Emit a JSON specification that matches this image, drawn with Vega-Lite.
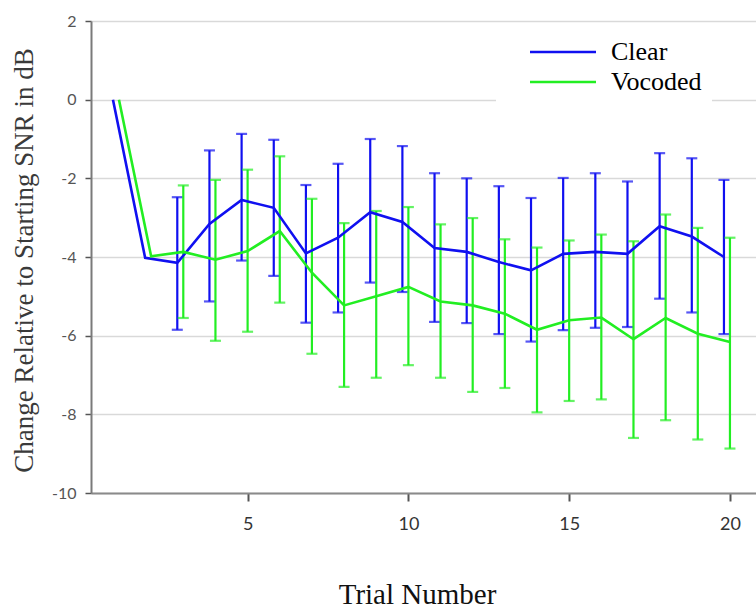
{
  "$schema": "https://vega.github.io/schema/vega-lite/v6.json",
  "width": 665,
  "height": 472,
  "autosize": "none",
  "padding": {"left": 91, "top": 21, "right": 0, "bottom": 115},
  "background": "white",
  "config": {"view": {"stroke": null}},
  "data": {
    "values": [
      {"trial": 1, "series": "Clear", "mean": 0, "lo": null, "hi": null},
      {"trial": 2, "series": "Clear", "mean": -4.02, "lo": null, "hi": null},
      {"trial": 3, "series": "Clear", "mean": -4.15, "lo": -5.85, "hi": -2.48},
      {"trial": 4, "series": "Clear", "mean": -3.16, "lo": -5.13, "hi": -1.29},
      {"trial": 5, "series": "Clear", "mean": -2.55, "lo": -4.09, "hi": -0.87},
      {"trial": 6, "series": "Clear", "mean": -2.75, "lo": -4.48, "hi": -1.02},
      {"trial": 7, "series": "Clear", "mean": -3.91, "lo": -5.67, "hi": -2.17},
      {"trial": 8, "series": "Clear", "mean": -3.51, "lo": -5.41, "hi": -1.63},
      {"trial": 9, "series": "Clear", "mean": -2.86, "lo": -4.65, "hi": -1.0},
      {"trial": 10, "series": "Clear", "mean": -3.11, "lo": -4.89, "hi": -1.18},
      {"trial": 11, "series": "Clear", "mean": -3.77, "lo": -5.65, "hi": -1.87},
      {"trial": 12, "series": "Clear", "mean": -3.87, "lo": -5.68, "hi": -2.0},
      {"trial": 13, "series": "Clear", "mean": -4.13, "lo": -5.96, "hi": -2.2},
      {"trial": 14, "series": "Clear", "mean": -4.34, "lo": -6.15, "hi": -2.5},
      {"trial": 15, "series": "Clear", "mean": -3.92, "lo": -5.86, "hi": -1.99},
      {"trial": 16, "series": "Clear", "mean": -3.87, "lo": -5.8, "hi": -1.87},
      {"trial": 17, "series": "Clear", "mean": -3.92, "lo": -5.78, "hi": -2.08},
      {"trial": 18, "series": "Clear", "mean": -3.22, "lo": -5.06, "hi": -1.36},
      {"trial": 19, "series": "Clear", "mean": -3.48, "lo": -5.41, "hi": -1.49},
      {"trial": 20, "series": "Clear", "mean": -4.0, "lo": -5.96, "hi": -2.04},
      {"trial": 1, "series": "Vocoded", "mean": 0, "lo": null, "hi": null},
      {"trial": 2, "series": "Vocoded", "mean": -3.98, "lo": null, "hi": null},
      {"trial": 3, "series": "Vocoded", "mean": -3.87, "lo": -5.55, "hi": -2.18},
      {"trial": 4, "series": "Vocoded", "mean": -4.07, "lo": -6.13, "hi": -2.04},
      {"trial": 5, "series": "Vocoded", "mean": -3.85, "lo": -5.9, "hi": -1.78},
      {"trial": 6, "series": "Vocoded", "mean": -3.34, "lo": -5.16, "hi": -1.44},
      {"trial": 7, "series": "Vocoded", "mean": -4.4, "lo": -6.46, "hi": -2.52},
      {"trial": 8, "series": "Vocoded", "mean": -5.23, "lo": -7.3, "hi": -3.14},
      {"trial": 9, "series": "Vocoded", "mean": -5.0, "lo": -7.07, "hi": -2.83},
      {"trial": 10, "series": "Vocoded", "mean": -4.76, "lo": -6.75, "hi": -2.73},
      {"trial": 11, "series": "Vocoded", "mean": -5.13, "lo": -7.07, "hi": -3.17},
      {"trial": 12, "series": "Vocoded", "mean": -5.23, "lo": -7.43, "hi": -3.01},
      {"trial": 13, "series": "Vocoded", "mean": -5.44, "lo": -7.33, "hi": -3.55},
      {"trial": 14, "series": "Vocoded", "mean": -5.85, "lo": -7.95, "hi": -3.76},
      {"trial": 15, "series": "Vocoded", "mean": -5.61, "lo": -7.66, "hi": -3.58},
      {"trial": 16, "series": "Vocoded", "mean": -5.54, "lo": -7.62, "hi": -3.43},
      {"trial": 17, "series": "Vocoded", "mean": -6.09, "lo": -8.6, "hi": -3.6},
      {"trial": 18, "series": "Vocoded", "mean": -5.55, "lo": -8.15, "hi": -2.92},
      {"trial": 19, "series": "Vocoded", "mean": -5.95, "lo": -8.64, "hi": -3.26},
      {"trial": 20, "series": "Vocoded", "mean": -6.16, "lo": -8.87, "hi": -3.51}
    ]
  },
  "encoding": {
    "x": {
      "field": "trial",
      "type": "quantitative",
      "scale": {"domain": [0.13, 20.81], "nice": false, "zero": false},
      "axis": {
        "values": [5, 10, 15, 20],
        "grid": false,
        "domainColor": "#8a8a8a",
        "domainWidth": 2,
        "tickColor": "#555555",
        "tickSize": 8,
        "tickWidth": 2,
        "labelFont": "Lato",
        "labelFontSize": 18,
        "labelColor": "#333333",
        "labelPadding": 14,
        "title": "Trial Number",
        "titleFont": "Liberation Serif",
        "titleFontSize": 29,
        "titleFontWeight": "normal",
        "titleColor": "#111111",
        "titleX": 326,
        "titleY": 110,
        "titleAlign": "center",
        "titleBaseline": "alphabetic"
      }
    }
  },
  "layer": [
    {
      "transform": [{"filter": "datum.series === 'Clear' && datum.lo != null"}],
      "mark": {"type": "rule", "color": "#1010f0", "strokeWidth": 2.2, "xOffset": -6},
      "encoding": {
        "y": {"field": "lo", "type": "quantitative", "title": "Change Relative to Starting SNR in dB", "scale": {"domain": [-10, 2], "nice": false, "zero": false}},
        "y2": {"field": "hi"}
      }
    },
    {
      "transform": [{"filter": "datum.series === 'Clear' && datum.lo != null"}],
      "mark": {"type": "tick", "orient": "horizontal", "color": "#1010f0", "size": 11, "thickness": 2.2, "xOffset": -6},
      "encoding": {
        "y": {"field": "lo", "type": "quantitative", "title": "Change Relative to Starting SNR in dB", "scale": {"domain": [-10, 2], "nice": false, "zero": false}}
      }
    },
    {
      "transform": [{"filter": "datum.series === 'Clear' && datum.lo != null"}],
      "mark": {"type": "tick", "orient": "horizontal", "color": "#1010f0", "size": 11, "thickness": 2.2, "xOffset": -6},
      "encoding": {
        "y": {"field": "hi", "type": "quantitative", "title": "Change Relative to Starting SNR in dB", "scale": {"domain": [-10, 2], "nice": false, "zero": false}}
      }
    },
    {
      "transform": [{"filter": "datum.series === 'Vocoded' && datum.lo != null"}],
      "mark": {"type": "rule", "color": "#22ee22", "strokeWidth": 2.2},
      "encoding": {
        "y": {"field": "lo", "type": "quantitative", "title": "Change Relative to Starting SNR in dB", "scale": {"domain": [-10, 2], "nice": false, "zero": false}},
        "y2": {"field": "hi"}
      }
    },
    {
      "transform": [{"filter": "datum.series === 'Vocoded' && datum.lo != null"}],
      "mark": {"type": "tick", "orient": "horizontal", "color": "#22ee22", "size": 11, "thickness": 2.2},
      "encoding": {
        "y": {"field": "lo", "type": "quantitative", "title": "Change Relative to Starting SNR in dB", "scale": {"domain": [-10, 2], "nice": false, "zero": false}}
      }
    },
    {
      "transform": [{"filter": "datum.series === 'Vocoded' && datum.lo != null"}],
      "mark": {"type": "tick", "orient": "horizontal", "color": "#22ee22", "size": 11, "thickness": 2.2},
      "encoding": {
        "y": {"field": "hi", "type": "quantitative", "title": "Change Relative to Starting SNR in dB", "scale": {"domain": [-10, 2], "nice": false, "zero": false}}
      }
    },
    {
      "transform": [{"filter": "datum.series === 'Clear'"}],
      "mark": {"type": "line", "strokeWidth": 2.6, "xOffset": -6},
      "encoding": {
        "y": {
          "field": "mean",
          "type": "quantitative",
          "title": "Change Relative to Starting SNR in dB",
          "scale": {"domain": [-10, 2], "nice": false, "zero": false},
          "axis": {
            "values": [-10, -8, -6, -4, -2, 0, 2],
            "labelExpr": "replace(datum.label, '\u2212', '-')",
            "grid": true,
            "gridColor": "#d9d9d9",
            "gridWidth": 1.5,
            "domainColor": "#7a7a7a",
            "domainWidth": 2,
            "tickColor": "#555555",
            "tickSize": 6,
            "tickWidth": 1.5,
            "labelFont": "Lato",
            "labelFontSize": 16,
            "labelColor": "#555555",
            "labelPadding": 9,
            "titleFont": "Liberation Serif",
            "titleFontSize": 27,
            "titleFontWeight": "normal",
            "titleColor": "#3a3a3a",
            "titleAngle": -90,
            "titleX": -67,
            "titleY": 239,
            "titleAlign": "center",
            "titleBaseline": "middle"
          }
        },
        "color": {
          "field": "series",
          "type": "nominal",
          "scale": {"domain": ["Clear", "Vocoded"], "range": ["#1010f0", "#22ee22"]},
          "legend": {
            "orient": "none",
            "legendX": 405,
            "legendY": 8,
            "title": null,
            "symbolType": "M-3,0H3",
            "symbolSize": 484,
            "symbolStrokeWidth": 2.6,
            "symbolOffset": 44,
            "labelFont": "Liberation Serif",
            "labelFontSize": 26,
            "labelColor": "#000000",
            "labelOffset": 35,
            "rowPadding": 4,
            "padding": 10,
            "fillColor": "white",
            "strokeColor": null
          }
        }
      }
    },
    {
      "transform": [{"filter": "datum.series === 'Vocoded'"}],
      "mark": {"type": "line", "strokeWidth": 2.6},
      "encoding": {
        "y": {"field": "mean", "type": "quantitative", "title": "Change Relative to Starting SNR in dB", "scale": {"domain": [-10, 2], "nice": false, "zero": false}},
        "color": {"field": "series", "type": "nominal", "scale": {"domain": ["Clear", "Vocoded"], "range": ["#1010f0", "#22ee22"]}}
      }
    }
  ]
}
